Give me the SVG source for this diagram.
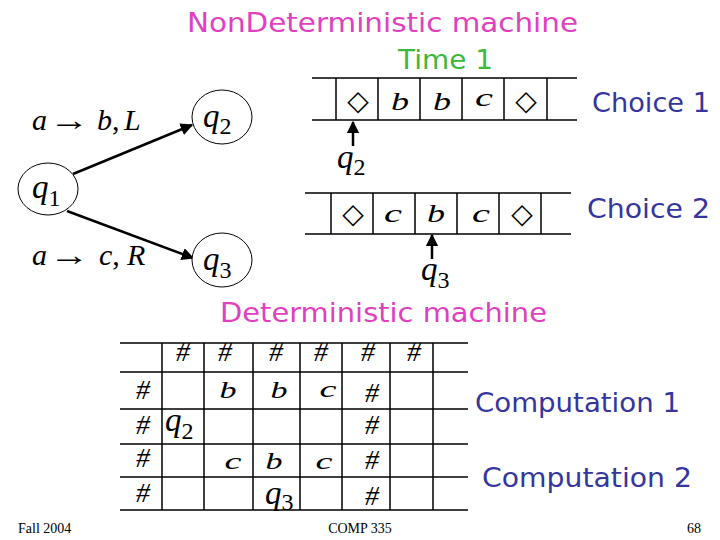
<svg xmlns="http://www.w3.org/2000/svg" width="720" height="540" viewBox="0 0 720 540">
<style>
.ttl{font-family:"DejaVu Sans",Verdana,sans-serif;font-size:27px}
.mag{fill:#E040C0}.grn{fill:#3CB83C}.blu{fill:#3535A0}
.m{font-family:"Liberation Serif","DejaVu Serif",serif;font-size:30px;fill:#000}
.i{font-style:italic}
.q{font-family:"Liberation Serif",serif;font-size:33px;font-style:italic;fill:#000}
.sub{font-style:normal;font-size:24px}
.sym{font-family:"Liberation Serif",serif;font-style:italic;font-size:26px;fill:#000;text-anchor:middle}
.gs{font-size:24px}
.hash{font-family:"Liberation Serif",serif;font-style:italic;font-size:28px;fill:#000;text-anchor:middle}
.dia{font-family:"DejaVu Sans",sans-serif;font-size:28px;fill:#000;text-anchor:middle}
.ln{stroke:#000;stroke-width:1.5;fill:none}
.st{fill:#fff;stroke:#000;stroke-width:1}
.ar{stroke:#000;stroke-width:2.5;fill:none}
.ft{font-family:"Liberation Serif",serif;font-size:14px;fill:#000}
</style>
<defs>
<marker id="ah" viewBox="0 0 10 10" refX="9" refY="5" markerWidth="5" markerHeight="5" orient="auto" markerUnits="strokeWidth">
<path d="M0,0 L10,5 L0,10 z" fill="#000"/>
</marker>
</defs>

<text class="ttl mag" x="187" y="32" textLength="391" lengthAdjust="spacingAndGlyphs">NonDeterministic machine</text>
<text class="ttl grn" x="398" y="69" textLength="95" lengthAdjust="spacingAndGlyphs">Time 1</text>
<text class="ttl blu" x="592" y="112" textLength="118" lengthAdjust="spacingAndGlyphs">Choice 1</text>
<text class="ttl blu" x="587" y="218" textLength="123" lengthAdjust="spacingAndGlyphs">Choice 2</text>
<text class="ttl mag" x="220" y="322" textLength="327" lengthAdjust="spacingAndGlyphs">Deterministic machine</text>
<text class="ttl blu" x="475" y="412" textLength="205" lengthAdjust="spacingAndGlyphs">Computation 1</text>
<text class="ttl blu" x="482" y="487" textLength="210" lengthAdjust="spacingAndGlyphs">Computation 2</text>

<!-- state diagram -->
<g id="connectors">
<line class="ar" x1="73" y1="174" x2="192" y2="125" marker-end="url(#ah)"/>
<line class="ar" x1="67" y1="211" x2="193" y2="258" marker-end="url(#ah)"/>
<line class="ar" x1="353" y1="146" x2="353" y2="122" marker-end="url(#ah)"/>
<line class="ar" x1="432" y1="259" x2="432" y2="235" marker-end="url(#ah)"/>
</g>
<g id="label-ab">
<text class="m i" x="32" y="130">a</text>
<text class="m" transform="translate(49,130) scale(1.35,1)">→</text>
<text class="m" x="97" y="130"><tspan class="i">b</tspan>,</text>
<text class="m i" x="124" y="130">L</text>
</g>
<g id="label-ac">
<text class="m i" x="32" y="265">a</text>
<text class="m" transform="translate(49,265) scale(1.35,1)">→</text>
<text class="m" x="99" y="265"><tspan class="i">c</tspan>,</text>
<text class="m i" x="127" y="265">R</text>
</g>

<g id="q1"><ellipse class="st" cx="48" cy="189" rx="30" ry="26"/><text class="q" x="32" y="198">q<tspan class="sub" dy="8">1</tspan></text></g>
<g id="q2"><ellipse class="st" cx="222" cy="117" rx="30" ry="27"/><text class="q" x="203" y="127">q<tspan class="sub" dy="7">2</tspan></text></g>
<g id="q3"><ellipse class="st" cx="222" cy="260" rx="30" ry="27"/><text class="q" x="203" y="270">q<tspan class="sub" dy="8">3</tspan></text></g>

<!-- tape 1 -->
<g id="tape1">
<path class="ln" d="M312,78H577M312,120H577M336,78V120M378,78V120M420,78V120M462,78V120M504,78V120M547,78V120"/>
<text class="dia" x="358" y="110">◇</text>
<text class="sym" x="400" y="110" textLength="18" lengthAdjust="spacingAndGlyphs">b</text>
<text class="sym" x="442" y="110" textLength="18" lengthAdjust="spacingAndGlyphs">b</text>
<text class="sym" x="484" y="106" textLength="18" lengthAdjust="spacingAndGlyphs">c</text>
<text class="dia" x="526" y="110">◇</text>
<text class="q" x="337" y="168">q<tspan class="sub" dy="7">2</tspan></text>
</g>

<!-- tape 2 -->
<g id="tape2">
<path class="ln" d="M305,193H571M305,234H571M331,193V234M373,193V234M415,193V234M457,193V234M499,193V234M541,193V234"/>
<text class="dia" x="353" y="223">◇</text>
<text class="sym" x="393" y="222" textLength="18" lengthAdjust="spacingAndGlyphs">c</text>
<text class="sym" x="436" y="222" textLength="18" lengthAdjust="spacingAndGlyphs">b</text>
<text class="sym" x="481" y="222" textLength="18" lengthAdjust="spacingAndGlyphs">c</text>
<text class="dia" x="522" y="223">◇</text>
<text class="q" x="421" y="280">q<tspan class="sub" dy="8">3</tspan></text>
</g>

<!-- grid -->
<g id="grid">
<path class="ln" d="M120,343H468M120,372H468M120,409H468M120,444H468M120,477H468M120,510H468M162,343V510M204,343V510M253,343V510M300,343V510M342,343V510M390,343V510M433,343V510"/>
<text class="hash" x="183" y="361">#</text>
<text class="hash" x="225" y="361">#</text>
<text class="hash" x="276" y="361">#</text>
<text class="hash" x="321" y="361">#</text>
<text class="hash" x="368" y="361">#</text>
<text class="hash" x="414" y="361">#</text>

<text class="hash" x="143" y="399">#</text>
<text class="sym gs" x="228" y="398" textLength="17" lengthAdjust="spacingAndGlyphs">b</text>
<text class="sym gs" x="279" y="398" textLength="17" lengthAdjust="spacingAndGlyphs">b</text>
<text class="sym gs" x="328" y="397" textLength="17" lengthAdjust="spacingAndGlyphs">c</text>
<text class="hash" x="372" y="402">#</text>

<text class="hash" x="143" y="434">#</text>
<text class="q" x="165" y="431">q<tspan class="sub" dy="8">2</tspan></text>
<text class="hash" x="372" y="434">#</text>

<text class="hash" x="143" y="467">#</text>
<text class="sym gs" x="233" y="469" textLength="17" lengthAdjust="spacingAndGlyphs">c</text>
<text class="sym gs" x="274" y="469" textLength="17" lengthAdjust="spacingAndGlyphs">b</text>
<text class="sym gs" x="324" y="469" textLength="17" lengthAdjust="spacingAndGlyphs">c</text>
<text class="hash" x="372" y="469">#</text>

<text class="hash" x="143" y="502">#</text>
<text class="q" x="265" y="504">q<tspan class="sub" dy="6">3</tspan></text>
<text class="hash" x="372" y="505">#</text>
</g>

<text class="ft" x="18" y="533">Fall 2004</text>
<text class="ft" x="360" y="533" text-anchor="middle">COMP 335</text>
<text class="ft" x="701" y="533" text-anchor="end">68</text>
</svg>
